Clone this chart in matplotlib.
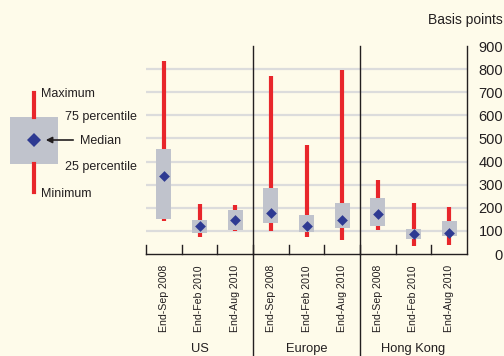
import matplotlib
matplotlib.use("Agg")
import matplotlib.pyplot as plt
from matplotlib import font_manager
from matplotlib.patches import FancyArrowPatch, Rectangle
from matplotlib.lines import Line2D
import numpy as np

# Spread distributions (basis points)
groups = ["US", "Europe", "Hong Kong"]
dates = ["End-Sep 2008", "End-Feb 2010", "End-Aug 2010"]
maximum = [837, 218, 212, 772, 472, 797, 320, 219, 202]
pct75 = [455, 147, 190, 286, 169, 221, 241, 108, 143]
median = [339, 121, 147, 177, 120, 146, 173, 85, 90]
pct25 = [153, 92, 104, 136, 97, 114, 123, 66, 79]
minimum = [143, 75, 98, 98, 75, 61, 104, 35, 39]
y_ticks = [0, 100, 200, 300, 400, 500, 600, 700, 800, 900]

BG = "#FEFBEA"
RED = "#E8262B"
BOX = "#C0C3CC"
NAVY = "#2E3A92"
GRID = "#DCDCDC"
INK = "#231F20"

names = {f.name for f in font_manager.fontManager.ttflist}
base = "Liberation Sans" if "Liberation Sans" in names else "DejaVu Sans"
plt.rcParams["font.family"] = [base, "DejaVu Sans"]

fig = plt.figure(figsize=(5.04, 3.56), dpi=100, facecolor=BG)
W, H = 504, 356
x0, x1, ytop, ybot = 146, 467, 46, 254
ax = fig.add_axes([x0 / W, 1 - ybot / H, (x1 - x0) / W, (ybot - ytop) / H])
ax.set_facecolor(BG)

n = len(median)
x = np.arange(n)
ax.set_xlim(-0.5, n - 0.5)
ax.set_ylim(0, 900)

for v in y_ticks[1:-1]:
    ax.axhline(v, color=GRID, lw=1.6, zorder=1)

bw = 0.42
for i in range(n):
    ax.vlines(x[i], minimum[i], maximum[i], color=RED, lw=3.0, zorder=2)
    ax.bar(x[i], pct75[i] - pct25[i], bottom=pct25[i], width=bw,
           color=BOX, zorder=3, linewidth=0)
ax.scatter(x, median, marker="D", s=30, color=NAVY, zorder=4, linewidths=0)

for s in ["top", "left"]:
    ax.spines[s].set_visible(False)
for s in ["bottom", "right"]:
    ax.spines[s].set_color(INK)
    ax.spines[s].set_linewidth(1.0)

ax.yaxis.tick_right()
ax.set_yticks(y_ticks)
ax.set_yticklabels([str(v) for v in y_ticks], fontsize=10.5, color=INK, ha="right")
ax.tick_params(axis="y", length=0, pad=26)

ax.set_xticks(x)
ax.set_xticklabels(dates * 3, rotation=90, fontsize=7.6, color=INK, va="top")
ax.tick_params(axis="x", length=0, pad=8)

# boundary ticks on the bottom axis
for b in np.arange(-0.5, n, 1.0)[:-1]:
    ax.plot([b, b], [0, 38], color=INK, lw=1.0, clip_on=False, zorder=5)

# group separators running from the top of the plot down past the group labels
for b in [2.5, 5.5]:
    ax.plot([b, b], [900, 0], color=INK, lw=1.0, clip_on=False, zorder=5)
    line_x = (x0 + (b + 0.5) / n * (x1 - x0)) / W
    fig.add_artist(Line2D([line_x, line_x], [1 - ybot / H, 0], color=INK, lw=1.0))

for gi, g in enumerate(groups):
    cx = (x0 + (gi * 3 + 1.5) / n * (x1 - x0)) / W
    fig.text(cx, 1 - 349 / H, g, ha="center", va="center", fontsize=9.3, color=INK)

fig.text(503 / W, 1 - 20 / H, "Basis points", ha="right", va="center",
         fontsize=10, color=INK)


# legend key
def fy(py):
    return 1 - py / H


fig.add_artist(Line2D([34 / W, 34 / W], [fy(93), fy(117)], color=RED, lw=3.0))
fig.add_artist(Line2D([34 / W, 34 / W], [fy(164), fy(192)], color=RED, lw=3.0))
fig.add_artist(Rectangle((10 / W, fy(164)), 48 / W, 47 / H, color=BOX, lw=0))
fig.add_artist(Line2D([34 / W], [fy(140)], marker="D", markersize=7.5,
                      color=NAVY, markeredgewidth=0))
fig.add_artist(FancyArrowPatch(
    (76 / W, fy(140)), (43 / W, fy(140)), transform=fig.transFigure,
    arrowstyle="-|>", mutation_scale=9, color=INK, lw=1.2))
fig.text(41 / W, fy(94), "Maximum", ha="left", va="center", fontsize=9, color=INK)
fig.text(65 / W, fy(117), "75 percentile", ha="left", va="center", fontsize=9, color=INK)
fig.text(80 / W, fy(141), "Median", ha="left", va="center", fontsize=9, color=INK)
fig.text(65 / W, fy(167), "25 percentile", ha="left", va="center", fontsize=9, color=INK)
fig.text(41 / W, fy(194), "Minimum", ha="left", va="center", fontsize=9, color=INK)

fig.savefig("out.png", dpi=100, facecolor=BG)
